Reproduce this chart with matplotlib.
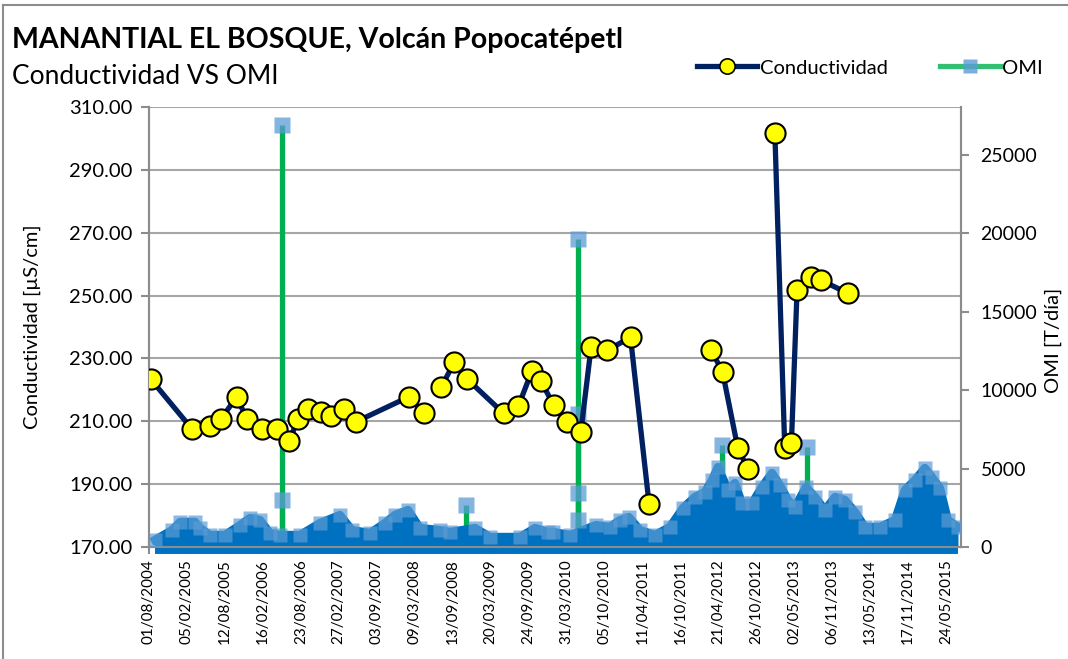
import numpy as np
import pandas as pd
import matplotlib
matplotlib.use('Agg')
import matplotlib.pyplot as plt
import matplotlib.transforms as mtransforms
from matplotlib.lines import Line2D

plt.rcParams['font.family'] = ['Lato', 'DejaVu Sans']

# Conductividad [µS/cm]; NaN = celda vacía (corta la línea)
cond_dates = ['2004-08-11', '2005-02-28', '2005-06-01', '2005-07-24', '2005-10-09',
              '2005-11-28', '2006-02-12', '2006-04-28', '2006-06-27', '2006-08-07',
              '2006-09-29', '2006-12-02', '2007-01-18', '2007-03-23', '2007-05-22',
              '2008-02-10', '2008-04-25', '2008-06-01', '2008-07-18', '2008-09-22',
              '2008-11-21', '2009-05-24', '2009-08-05', '2009-10-10', '2009-11-25',
              '2010-01-27', '2010-03-31', '2010-06-10', '2010-07-31', '2010-10-19',
              '2011-02-11', '2011-05-14', '2011-10-01', '2012-03-16', '2012-05-12',
              '2012-07-26', '2012-09-15', '2012-12-01', '2013-01-26', '2013-03-16',
              '2013-04-18', '2013-05-16', '2013-07-24', '2013-09-14', '2014-01-24']
cond_vals = [223.3, 207.7, 208.6, 210.7, 217.8,
             210.8, 207.7, 207.7, 203.6, 210.6,
             213.8, 213.0, 211.7, 213.9, 209.8,
             217.8, 212.6, np.nan, 220.8, 228.9,
             223.6, 212.5, 214.9, 225.9, 222.7,
             215.1, 209.8, 206.7, 233.7, 232.6,
             236.7, 183.7, np.nan, 232.7, 225.7,
             201.6, 194.7, np.nan, 301.8, 201.4,
             203.0, 251.8, 256.0, 254.8, 250.7]

# OMI [T/día]: borde superior de la banda diaria
omi_dates = ['2004-08-31', '2004-11-23', '2005-01-02', '2005-03-17', '2005-04-11',
             '2005-05-30', '2005-08-12', '2005-10-26', '2005-12-14', '2006-02-02',
             '2006-03-23', '2006-05-12', '2006-08-19', '2006-11-26', '2007-03-05',
             '2007-05-03', '2007-08-01', '2007-10-14', '2007-12-02', '2008-02-05',
             '2008-04-04', '2008-07-12', '2008-08-31', '2009-01-02', '2009-03-17',
             '2009-08-13', '2009-10-26', '2009-12-29', '2010-01-23', '2010-04-17',
             '2010-08-24', '2010-11-01', '2010-12-21', '2011-02-03', '2011-03-30',
             '2011-06-12', '2011-08-25', '2011-10-29', '2011-12-27', '2012-02-15',
             '2012-03-21', '2012-04-19', '2012-06-08', '2012-07-12', '2012-08-16',
             '2012-10-05', '2012-11-23', '2013-01-12', '2013-02-20', '2013-04-01',
             '2013-05-06', '2013-06-29', '2013-08-13', '2013-10-01', '2013-11-20',
             '2014-01-08', '2014-02-27', '2014-04-17', '2014-07-01', '2014-09-13',
             '2014-11-01', '2014-12-21', '2015-02-08', '2015-03-15', '2015-04-24',
             '2015-06-02', '2015-07-22']
omi_vals = [450, 1080, 1600, 1600, 1210,
            765, 765, 1400, 1850, 1720,
            890, 765, 765, 1530, 2040,
            1080, 890, 1530, 2040, 2360,
            1210, 1080, 960, 1210, 640,
            640, 1210, 960, 960, 765,
            1400, 1280, 1720, 1910, 1080,
            765, 1280, 2490, 3190, 3510,
            4270, 5100, 3640, 4080, 2800,
            2800, 3830, 4720, 3950, 3000,
            2550, 3830, 3190, 2360, 3190,
            3000, 2230, 1280, 1280, 1720,
            3640, 4270, 5040, 4460, 3760,
            1720, 1280]

# OMI: picos aislados
peak_dates = ['2006-05-22', '2006-05-22', '2008-11-18', '2010-05-27', '2010-05-27',
              '2010-05-27', '2010-05-27', '2012-05-08', '2013-07-03']
peak_vals = [26900, 3000, 2650, 19650, 8500, 3440, 1720, 6500, 6400]

xtick_labels = ['01/08/2004', '05/02/2005', '12/08/2005', '16/02/2006', '23/08/2006',
                '27/02/2007', '03/09/2007', '09/03/2008', '13/09/2008', '20/03/2009',
                '24/09/2009', '31/03/2010', '05/10/2010', '11/04/2011', '16/10/2011',
                '21/04/2012', '26/10/2012', '02/05/2013', '06/11/2013', '13/05/2014',
                '17/11/2014', '24/05/2015']
cond_ticks = [170, 190, 210, 230, 250, 270, 290, 310]
omi_ticks = [0, 5000, 10000, 15000, 20000, 25000]

cd = pd.to_datetime(cond_dates)
od = pd.to_datetime(omi_dates)
pd_ = pd.to_datetime(peak_dates)
xt = pd.to_datetime(xtick_labels, dayfirst=True)

fig = plt.figure(figsize=(10.68, 6.59), dpi=100)
ax = fig.add_axes([149 / 1068, 1 - 547 / 659, (961 - 149) / 1068, (547 - 107) / 659])
ax2 = ax.twinx()

navy = '#002060'
green = '#00B050'
band = '#0070C0'
light = '#5B9BD5'
grey = '#8C8C8C'

# OMI en eje derecho
ax2.vlines(pd_, 0, peak_vals, color=green, lw=3.8, zorder=1)
ax2.fill_between(od, 0, omi_vals, color=band, lw=0, zorder=2)
ax2.plot(od, omi_vals, color=band, lw=6, solid_joinstyle='round', zorder=2)
ax2.plot(od, [0] * len(od), color=band, lw=10, solid_capstyle='butt', clip_on=False, zorder=2)
ax2.plot(od, omi_vals, 's', ms=10, mfc=light, mec='none', alpha=0.7, zorder=3)
ax2.plot(pd_, peak_vals, 's', ms=11, mfc=light, mec='none', alpha=0.75, zorder=4)

# Conductividad, escala izquierda pero dibujada sobre la banda
trans = mtransforms.blended_transform_factory(ax2.transData, ax.transData)
ax2.plot(cd, cond_vals, '-o', color=navy, lw=3.8, ms=14.5, mfc='#FFFF00', mec='black',
         mew=1.5, transform=trans, zorder=6)

xmin, xmax = pd.Timestamp('2004-08-01'), pd.Timestamp('2015-08-06')
ax.set_xlim(xmin, xmax)
ax2.set_xlim(xmin, xmax)
ax.set_ylim(170, 310)
ax2.set_ylim(0, 28060)

ax.set_yticks(cond_ticks)
ax.set_yticklabels([f'{v:.2f}' for v in cond_ticks], fontsize=14.5)
ax2.set_yticks(omi_ticks)
ax2.set_yticklabels([str(v) for v in omi_ticks], fontsize=14)
ax.set_xticks(xt)
ax.set_xticklabels(xtick_labels, rotation=90, fontsize=11)

ax.grid(axis='y', color='#A6A6A6', lw=1.5)
ax.set_axisbelow(True)
for a in (ax, ax2):
    a.spines['top'].set_visible(False)
    for s in ('left', 'right', 'bottom'):
        a.spines[s].set_color(grey)
        a.spines[s].set_linewidth(1.5)
ax.tick_params(axis='y', direction='out', length=6, color=grey, width=1.5, pad=6)
ax.tick_params(axis='x', direction='inout', length=10, color=grey, width=1.5, pad=4)
ax2.tick_params(axis='y', direction='out', length=6, color=grey, width=1.5, pad=8)

fig.text(0.030, 0.504, 'Conductividad [µS/cm]', rotation=90, ha='center', va='center', fontsize=14.5)
fig.text(0.986, 0.484, 'OMI [T/día]', rotation=90, ha='center', va='center', fontsize=14.5)

fig.text(12 / 1068, 1 - 40 / 659, 'MANANTIAL EL BOSQUE, Volcán Popocatépetl',
         fontsize=20.5, fontweight='bold', ha='left', va='center')
fig.text(12 / 1068, 1 - 77 / 659, 'Conductividad VS OMI', fontsize=19, ha='left', va='center')

handles = [Line2D([], [], color=navy, lw=3.8, marker='o', ms=11, mfc='#FFFF00', mec='black', mew=1.2),
           Line2D([], [], color=green, lw=3.8, marker='s', ms=10, mfc=light, mec='none', alpha=0.8)]
fig.legend(handles, ['Conductividad', 'OMI'], loc='center', bbox_to_anchor=(870 / 1068, 1 - 68 / 659),
           ncol=2, frameon=False, fontsize=14.5, handlelength=3.0, handletextpad=0.1, columnspacing=2.6)

# marco del gráfico
fig.add_artist(Line2D([3 / 1068, 3 / 1068], [0, 1 - 5 / 659], color=grey, lw=1.5))
fig.add_artist(Line2D([3 / 1068, 1], [1 - 5 / 659, 1 - 5 / 659], color=grey, lw=1.5))

fig.savefig('out.png', dpi=100)
